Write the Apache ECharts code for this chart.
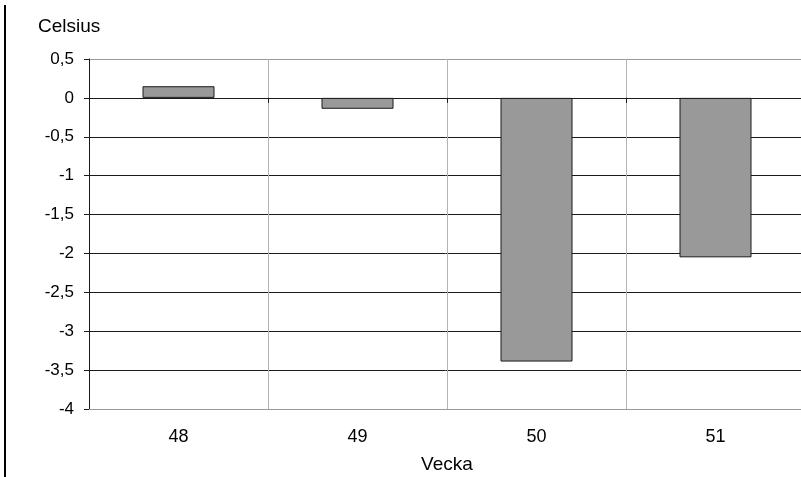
<!DOCTYPE html>
<html>
<head>
<meta charset="utf-8">
<script src="https://cdn.jsdelivr.net/npm/echarts@6/dist/echarts.min.js"></script>
<style>
  html, body { margin: 0; padding: 0; background: #fff; }
  #chart { width: 801px; height: 477px; }
</style>
</head>
<body>
<div id="chart"></div>
<script>
// Weekly temperature deviation
const weeks = ['48', '49', '50', '51'];
const deviation = [0.15, -0.14, -3.39, -2.05];
const yTicks = [-4, -3.5, -3, -2.5, -2, -1.5, -1, -0.5, 0, 0.5];

const FONT = '"Liberation Sans", Arial, sans-serif';
const chart = echarts.init(document.getElementById('chart'), null, { renderer: 'canvas' });

// outer grid lines at top and bottom are lighter than the inner ones
const gridColors = yTicks.map((v, i) => (i === 0 || i === yTicks.length - 1) ? '#9a9a9a' : '#1a1a1a');

chart.setOption({
  animation: false,
  backgroundColor: '#ffffff',
  grid: { left: 89, top: 59, width: 716, height: 350, containLabel: false, outerBoundsMode: 'none' },
  graphic: [
    { type: 'line', shape: { x1: 5, y1: 5, x2: 5, y2: 477 }, style: { stroke: '#000', lineWidth: 2 } },
    { type: 'text', left: 38, top: 17, style: { text: 'Celsius', font: '19px ' + FONT, fill: '#000' } }
  ],
  xAxis: [
    {
      type: 'category',
      data: weeks,
      name: 'Vecka',
      nameLocation: 'middle',
      nameGap: 46,
      nameTextStyle: { fontFamily: FONT, fontSize: 19, color: '#000' },
      axisLine: { onZero: false, lineStyle: { color: '#9a9a9a', width: 1 } },
      axisTick: { show: false },
      axisLabel: { fontFamily: FONT, fontSize: 18, color: '#000', margin: 19 },
      splitLine: { show: true, lineStyle: { color: '#b4b4b4', width: 1 } }
    },
    {
      type: 'category',
      data: weeks,
      position: 'bottom',
      axisLine: { onZero: true, lineStyle: { color: '#1a1a1a', width: 1 } },
      axisTick: { show: true, inside: false, length: 5, lineStyle: { color: '#1a1a1a' } },
      axisLabel: { show: false },
      splitLine: { show: false }
    }
  ],
  yAxis: {
    type: 'value',
    min: -4,
    max: 0.5,
    interval: 0.5,
    axisLine: { show: true, lineStyle: { color: '#1a1a1a', width: 1 } },
    axisTick: { show: true, length: 5, lineStyle: { color: '#1a1a1a' } },
    axisLabel: {
      fontFamily: FONT, fontSize: 17, color: '#000', margin: 15,
      formatter: v => String(v).replace('.', ',')
    },
    splitLine: { show: true, lineStyle: { color: gridColors, width: 1 } }
  },
  series: [{
    type: 'bar',
    data: deviation,
    xAxisIndex: 0,
    barWidth: 72,
    itemStyle: { color: '#999999', borderColor: '#1a1a1a', borderWidth: 1 }
  }]
});
</script>
</body>
</html>
